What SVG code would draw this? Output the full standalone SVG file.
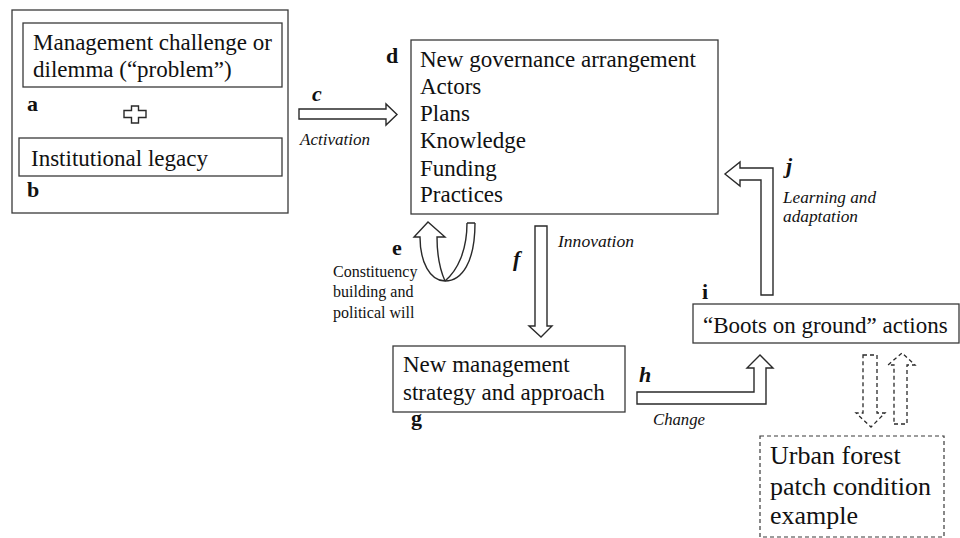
<svg xmlns="http://www.w3.org/2000/svg" width="960" height="538" viewBox="0 0 960 538">
<style>
.box{fill:#fff;stroke:#3a3a3a;stroke-width:1.3}
.dbox{fill:#fff;stroke:#3a3a3a;stroke-width:1.2;stroke-dasharray:4 3}
.arr{fill:#fff;stroke:#2a2a2a;stroke-width:1.4;stroke-linejoin:miter}
.darr{fill:none;stroke:#2a2a2a;stroke-width:1.3;stroke-dasharray:4 3}
.t{font-family:"Liberation Serif","Times New Roman",serif;font-size:23px;fill:#111}
.tl{font-family:"Liberation Serif","Times New Roman",serif;font-size:26px;fill:#111}
.s{font-family:"Liberation Serif","Times New Roman",serif;font-size:16px;fill:#111}
.i{font-family:"Liberation Serif","Times New Roman",serif;font-size:16px;font-style:italic;fill:#111}
.b{font-family:"Liberation Serif","Times New Roman",serif;font-size:22px;font-weight:bold;fill:#111}
.bi{font-family:"Liberation Serif","Times New Roman",serif;font-size:22px;font-weight:bold;font-style:italic;fill:#111}
</style>
<rect width="960" height="538" fill="#fff"/>

<g id="node-ab">
<rect class="box" x="12" y="10" width="276" height="203"/>
<rect class="box" x="23" y="23" width="259" height="64"/>
<text class="t" x="33" y="50">Management challenge or</text>
<text class="t" x="33" y="77">dilemma (“problem”)</text>
<text class="b" x="27" y="111">a</text>
<path class="arr" d="M131.5 106 H138.5 V110.5 H146 V117.5 H138.5 V123 H131.5 V117.5 H124 V110.5 H131.5 Z"/>
<rect class="box" x="19" y="138" width="263" height="38"/>
<text class="t" x="31" y="166">Institutional legacy</text>
<text class="b" x="27" y="197">b</text>
</g>

<g id="node-d">
<rect class="box" x="411" y="40" width="307" height="174"/>
<text class="b" x="386" y="63">d</text>
<text class="t" x="420" y="67">New governance arrangement</text>
<text class="t" x="420" y="94">Actors</text>
<text class="t" x="420" y="121">Plans</text>
<text class="t" x="420" y="148">Knowledge</text>
<text class="t" x="420" y="176">Funding</text>
<text class="t" x="420" y="202">Practices</text>
</g>

<g id="node-g">
<rect class="box" x="393" y="346" width="232" height="66"/>
<text class="t" x="403" y="372">New management</text>
<text class="t" x="403" y="400">strategy and approach</text>
<text class="b" x="411" y="425">g</text>
</g>

<g id="node-i">
<rect class="box" x="693" y="304" width="266" height="39"/>
<text class="t" x="703" y="333">“Boots on ground” actions</text>
<text class="b" x="702" y="299">i</text>
</g>

<g id="node-urban">
<rect class="dbox" x="760" y="436" width="184" height="101"/>
<text class="tl" x="770" y="464">Urban forest</text>
<text class="tl" x="770" y="495">patch condition</text>
<text class="tl" x="770" y="524">example</text>
</g>

<g id="connectors">
<!-- c -->
<path class="arr" d="M299 109 H386 V104 L397 114.5 L386 125 V119 H299 Z"/>
<text class="bi" x="312" y="101">c</text>
<text class="i" x="300" y="145" textLength="70" lengthAdjust="spacingAndGlyphs">Activation</text>
<!-- e loop -->
<path class="arr" d="M475 223 C475 262 462 281 445 281 C430 281 420 262 420 237 H414 L428 222 L445 237 H437 C437 258 441 272 445 281"/>
<path class="arr" style="fill:none" d="M467 223 H475 M467 223 C467 250 458 270 445 281"/>
<text class="b" x="392" y="255">e</text>
<text class="s" x="333" y="277">Constituency</text>
<text class="s" x="333" y="297">building and</text>
<text class="s" x="333" y="318">political will</text>
<!-- f -->
<path class="arr" d="M535 226 H547 V326 H552 L541 337 L529 326 H535 Z"/>
<text class="bi" x="513" y="266">f</text>
<text class="i" x="558" y="247" textLength="76" lengthAdjust="spacingAndGlyphs">Innovation</text>
<!-- h -->
<path class="arr" d="M637 392 H754 V368 H747 L760 355 L773 368 H766 V404 H637 Z"/>
<text class="bi" x="639" y="382">h</text>
<text class="i" x="653" y="425" textLength="52" lengthAdjust="spacingAndGlyphs">Change</text>
<!-- j -->
<path class="arr" d="M773 295 V168 H740 V162 L725 174 L740 186 V180 H761 V295 Z"/>
<text class="bi" x="786" y="173">j</text>
<text class="i" x="783" y="203" textLength="93" lengthAdjust="spacingAndGlyphs">Learning and</text>
<text class="i" x="783" y="222" textLength="75" lengthAdjust="spacingAndGlyphs">adaptation</text>
<!-- dashed -->
<path class="darr" d="M863 355 H877 V413 H885 L871 427 L856 413 H863 Z"/>
<path class="darr" d="M894 424 H907 V365 H915 L902 353 L888 365 H894 Z"/>
</g>
</svg>
